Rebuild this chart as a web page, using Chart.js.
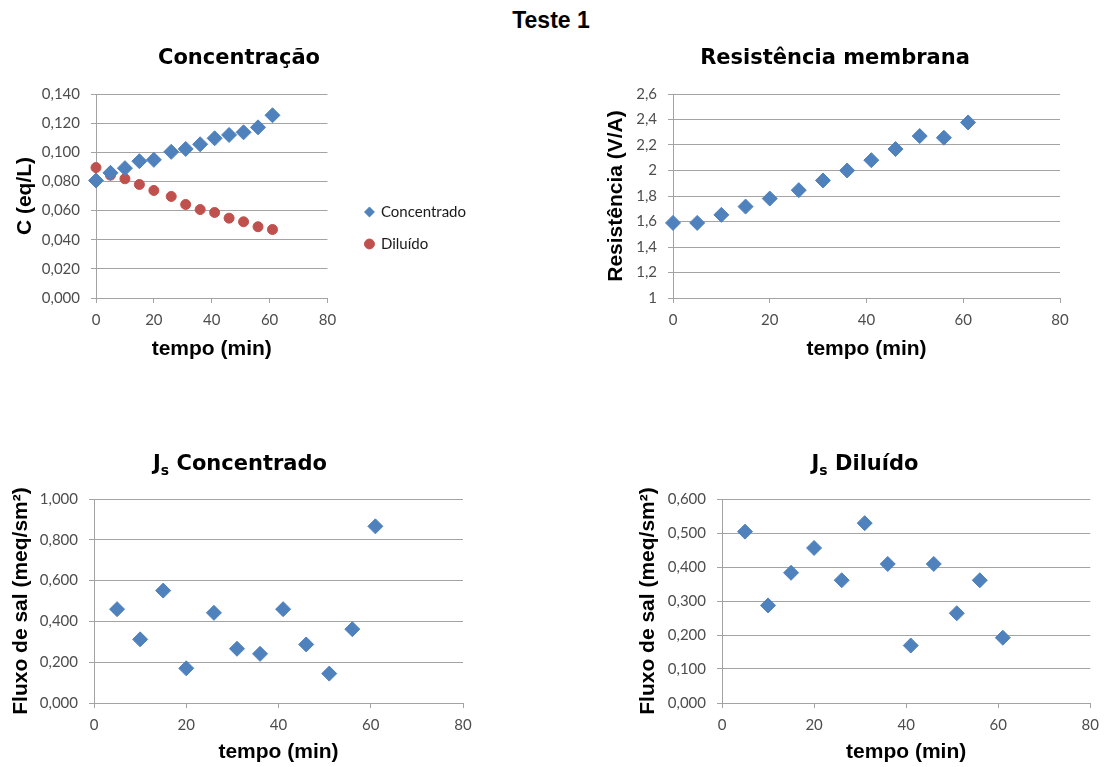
<!DOCTYPE html>
<html>
<head>
<meta charset="utf-8">
<script src="https://cdn.jsdelivr.net/npm/chart.js@4/dist/chart.umd.min.js"></script>
<style>
  body { margin: 0; background: #fff; width: 1107px; height: 767px; position: relative; overflow: hidden; }
  canvas { position: absolute; }
  #mainTitle { position: absolute; left: 0; top: 8px; width: 1102px; text-align: center;
    font: bold 23px "Liberation Sans", Arial, sans-serif; line-height: 24px; color: #000; }
</style>
</head>
<body>
<div id="mainTitle">Teste 1</div>
<canvas id="chartConc" width="490" height="345" style="left:0px;top:30px"></canvas>
<canvas id="chartRes" width="517" height="345" style="left:590px;top:30px"></canvas>
<canvas id="chartJsConc" width="480" height="337" style="left:0px;top:430px"></canvas>
<canvas id="chartJsDil" width="507" height="337" style="left:600px;top:430px"></canvas>
<script>
(function() {

    // tempo (min)
    var tempo = [0, 5, 10, 15, 20, 26, 31, 36, 41, 46, 51, 56, 61];
    var tempoJs = [5, 10, 15, 20, 26, 31, 36, 41, 46, 51, 56, 61];

    // C (eq/L)
    var concentrado = [0.0806, 0.0859, 0.0891, 0.0939, 0.0948, 0.1003, 0.1023, 0.1055, 0.1096, 0.1119, 0.1137, 0.1171, 0.1254];
    var diluido = [0.0895, 0.0843, 0.0818, 0.0779, 0.0738, 0.0697, 0.0642, 0.0607, 0.0587, 0.0548, 0.0523, 0.0489, 0.0470];

    // Resistencia (V/A)
    var resistencia = [1.589, 1.589, 1.652, 1.717, 1.780, 1.846, 1.922, 2.000, 2.081, 2.168, 2.270, 2.257, 2.377];

    // Fluxo de sal (meq/sm2)
    var jsConcentrado = [0.460, 0.312, 0.551, 0.170, 0.442, 0.266, 0.241, 0.460, 0.287, 0.144, 0.362, 0.866];
    var jsDiluido = [0.504, 0.287, 0.383, 0.456, 0.361, 0.529, 0.409, 0.169, 0.409, 0.264, 0.361, 0.192];

    // tick values
    var tempoTicks = [0, 20, 40, 60, 80];
    var concTicks = [0, 0.02, 0.04, 0.06, 0.08, 0.10, 0.12, 0.14];
    var resTicks = [1, 1.2, 1.4, 1.6, 1.8, 2, 2.2, 2.4, 2.6];
    var jsConcTicks = [0, 0.2, 0.4, 0.6, 0.8, 1.0];
    var jsDilTicks = [0, 0.1, 0.2, 0.3, 0.4, 0.5, 0.6];

    var blue = '#4F81BD';
    var red = '#C0504D';
    var gridColor = '#a3a3a3';
    var tickFont = { family: 'Lato', size: 15 };
    var axisTitleFont = { family: '"Liberation Sans", Arial', size: 21, weight: 'bold' };

    function points(xs, ys) {
        return xs.map(function(x, i) { return { x: x, y: ys[i] }; });
    }

    function fmt3(v) { return v.toFixed(3).replace('.', ','); }
    function fmtGeneral(v) { return String(+v.toFixed(1)).replace('.', ','); }

    // title with optional subscript (J_s)
    var titlePlugin = {
        id: 'subTitle',
        afterDraw: function(chart, args, opts) {
            var ctx = chart.ctx;
            var big = 'bold 21px "DejaVu Sans"';
            var small = 'bold 14px "DejaVu Sans"';
            ctx.save();
            ctx.fillStyle = '#000';
            ctx.textAlign = 'left';
            ctx.textBaseline = 'alphabetic';
            ctx.font = big;
            var w1 = ctx.measureText(opts.main).width;
            var w3 = opts.rest ? ctx.measureText(opts.rest).width : 0;
            ctx.font = small;
            var w2 = opts.sub ? ctx.measureText(opts.sub).width : 0;
            var x = opts.x - (w1 + w2 + w3) / 2;
            ctx.font = big;
            ctx.fillText(opts.main, x, opts.y);
            x += w1;
            if (opts.sub) {
                ctx.font = small;
                ctx.fillText(opts.sub, x, opts.y + 5);
                x += w2;
            }
            if (opts.rest) {
                ctx.font = big;
                ctx.fillText(opts.rest, x, opts.y);
            }
            ctx.restore();
        }
    };

    function xScale(height) {
        return {
            type: 'linear',
            position: 'bottom',
            min: tempoTicks[0],
            max: tempoTicks[tempoTicks.length - 1],
            afterBuildTicks: function(s) { s.ticks = tempoTicks.map(function(v) { return { value: v }; }); },
            afterFit: function(s) { s.height = height; },
            grid: { drawOnChartArea: false, drawTicks: true, tickLength: 5, color: gridColor },
            border: { display: true, color: gridColor },
            ticks: { font: tickFont, color: '#4d4d4d', padding: 8, autoSkip: false, maxRotation: 0,
                     callback: function(v) { return String(v); } },
            title: { display: true, text: 'tempo (min)', font: axisTitleFont, color: '#000', padding: { top: 0, bottom: 0 } }
        };
    }

    function yScale(tickVals, fmt, label, width, titlePad) {
        return {
            type: 'linear',
            position: 'left',
            min: tickVals[0],
            max: tickVals[tickVals.length - 1],
            afterBuildTicks: function(s) { s.ticks = tickVals.map(function(v) { return { value: v }; }); },
            afterFit: function(s) { s.width = width; },
            grid: { drawTicks: true, tickLength: 5, color: gridColor },
            border: { display: true, color: gridColor },
            ticks: { font: tickFont, color: '#4d4d4d', padding: 11, autoSkip: false,
                     callback: function(v) { return fmt(v); } },
            title: { display: true, text: label, font: axisTitleFont, color: '#000', padding: { top: titlePad, bottom: 0 } }
        };
    }

    function diamonds(label, xs, ys) {
        return {
            label: label,
            data: points(xs, ys),
            pointStyle: 'rectRot',
            pointRadius: 7.5,
            backgroundColor: blue,
            borderColor: blue,
            borderWidth: 1,
            clip: false
        };
    }

    var baseOptions = {
        responsive: false,
        animation: false,
        events: []
    };

    // Concentracao
    new Chart(document.getElementById('chartConc'), {
        type: 'scatter',
        data: {
            datasets: [
                diamonds('Concentrado', tempo, concentrado),
                {
                    label: 'Diluído',
                    data: points(tempo, diluido),
                    pointStyle: 'circle',
                    pointRadius: 5,
                    backgroundColor: red,
                    borderColor: red,
                    borderWidth: 1,
                    clip: false
                }
            ]
        },
        options: Object.assign({}, baseOptions, {
            layout: { padding: { left: 0, top: 64, right: 14, bottom: 13 } },
            scales: {
                x: xScale(64),
                y: yScale(concTicks, fmt3, 'C (eq/L)', 96, 13),
                // empty gap between plot and legend
                gap: {
                    type: 'linear', position: 'right', display: true,
                    grid: { display: false }, border: { display: false }, ticks: { display: false },
                    afterFit: function(s) { s.width = 21; }
                }
            },
            plugins: {
                legend: {
                    display: true,
                    position: 'right',
                    align: 'center',
                    maxWidth: 200,
                    labels: {
                        usePointStyle: true,
                        boxWidth: 8,
                        boxHeight: 7,
                        padding: 17,
                        font: { family: 'Lato', size: 15 },
                        color: '#1a1a1a'
                    }
                },
                tooltip: { enabled: false },
                subTitle: { main: 'Concentração', x: 239, y: 34 }
            }
        }),
        plugins: [titlePlugin]
    });

    // Resistencia membrana
    new Chart(document.getElementById('chartRes'), {
        type: 'scatter',
        data: { datasets: [diamonds('Resistência', tempo, resistencia)] },
        options: Object.assign({}, baseOptions, {
            layout: { padding: { left: 0, top: 64, right: 47, bottom: 13 } },
            scales: {
                x: xScale(64),
                y: yScale(resTicks, fmtGeneral, 'Resistência (V/A)', 83, 14)
            },
            plugins: {
                legend: { display: false },
                tooltip: { enabled: false },
                subTitle: { main: 'Resistência membrana', x: 245, y: 34 }
            }
        }),
        plugins: [titlePlugin]
    });

    // Js Concentrado
    new Chart(document.getElementById('chartJsConc'), {
        type: 'scatter',
        data: { datasets: [diamonds('Js Concentrado', tempoJs, jsConcentrado)] },
        options: Object.assign({}, baseOptions, {
            layout: { padding: { left: 0, top: 69, right: 17, bottom: 2 } },
            scales: {
                x: xScale(62),
                y: yScale(jsConcTicks, fmt3, 'Fluxo de sal (meq/sm²)', 94, 9)
            },
            plugins: {
                legend: { display: false },
                tooltip: { enabled: false },
                subTitle: { main: 'J', sub: 's', rest: ' Concentrado', x: 240, y: 40 }
            }
        }),
        plugins: [titlePlugin]
    });

    // Js Diluido
    new Chart(document.getElementById('chartJsDil'), {
        type: 'scatter',
        data: { datasets: [diamonds('Js Diluído', tempoJs, jsDiluido)] },
        options: Object.assign({}, baseOptions, {
            layout: { padding: { left: 0, top: 69, right: 16, bottom: 2 } },
            scales: {
                x: xScale(62),
                y: yScale(jsDilTicks, fmt3, 'Fluxo de sal (meq/sm²)', 122, 36)
            },
            plugins: {
                legend: { display: false },
                tooltip: { enabled: false },
                subTitle: { main: 'J', sub: 's', rest: ' Diluído', x: 265, y: 40 }
            }
        }),
        plugins: [titlePlugin]
    });

})();
</script>
</body>
</html>
